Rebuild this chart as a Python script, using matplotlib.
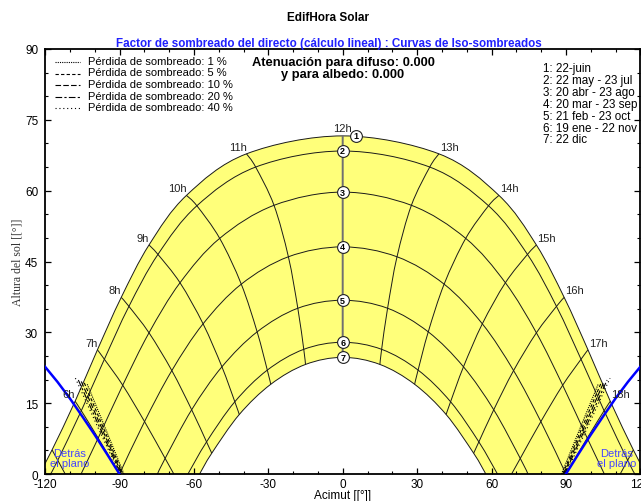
import numpy as np
import matplotlib
matplotlib.use("Agg")
import matplotlib.pyplot as plt
import matplotlib.transforms as mtransforms
from matplotlib.path import Path
from matplotlib.patches import PathPatch
from matplotlib.lines import Line2D

plt.rcParams["font.family"] = ["Liberation Sans", "DejaVu Sans"]
plt.rcParams["axes.unicode_minus"] = False

# --- data --------------------------------------------------------------------
DATE_LABELS = ["1: 22-juin", "2: 22 may - 23 jul", "3: 20 abr - 23 ago",
               "4: 20 mar - 23 sep", "5: 21 feb - 23 oct", "6: 19 ene - 22 nov",
               "7: 22 dic"]
HOURS = [5, 6, 7, 8, 9, 10, 11, 12, 13, 14, 15, 16, 17, 18, 19]

# azimuth / altitude of the sun at each hour, one row per date (None = below horizon)
AZIMUTH = [
    [-117.2, -107.9, -98.9, -89.3, -78.1, -63.0, -38.8, 0.0, 38.8, 63.0, 78.1, 89.3, 98.9, 107.9, 117.2],
    [-114.9, -105.4, -96.1, -86.2, -74.5, -58.8, -35.1, 0.0, 35.1, 58.8, 74.5, 86.2, 96.1, 105.4, 114.9],
    [None, -98.6, -88.7, -78.1, -65.6, -49.6, -27.7, 0.0, 27.7, 49.6, 65.6, 78.1, 88.7, 98.6, None],
    [None, -90.0, -79.9, -68.9, -56.3, -40.9, -21.9, 0.0, 21.9, 40.9, 56.3, 68.9, 79.9, 90.0, None],
    [None, None, -71.6, -60.9, -48.7, -34.5, -18.1, 0.0, 18.1, 34.5, 48.7, 60.9, 71.6, None, None],
    [None, None, None, -54.9, -43.5, -30.4, -15.7, 0.0, 15.7, 30.4, 43.5, 54.9, None, None, None],
    [None, None, None, -52.8, -41.7, -29.0, -15.0, 0.0, 15.0, 29.0, 41.7, 52.8, None, None, None],
]
ALTITUDE = [
    [5.1, 15.4, 26.3, 37.4, 48.5, 59.0, 67.8, 71.6, 67.8, 59.0, 48.5, 37.4, 26.3, 15.4, 5.1],
    [2.9, 13.4, 24.3, 35.5, 46.5, 56.8, 65.0, 68.4, 65.0, 56.8, 46.5, 35.5, 24.3, 13.4, 2.9],
    [None, 7.6, 18.8, 29.9, 40.5, 49.9, 56.9, 59.7, 56.9, 49.9, 40.5, 29.9, 18.8, 7.6, None],
    [None, 0.0, 11.1, 21.9, 31.8, 40.2, 46.0, 48.1, 46.0, 40.2, 31.8, 21.9, 11.1, 0.0, None],
    [None, None, 3.3, 13.6, 22.7, 30.1, 35.1, 36.8, 35.1, 30.1, 22.7, 13.6, 3.3, None, None],
    [None, None, None, 6.8, 15.3, 22.0, 26.4, 27.9, 26.4, 22.0, 15.3, 6.8, None, None, None],
    [None, None, None, 4.4, 12.6, 19.0, 23.2, 24.7, 23.2, 19.0, 12.6, 4.4, None, None, None],
]
SUNRISE_AZ = [-122.3, -117.8, -105.5, -90.0, -74.7, -62.4, -57.7]
SUNSET_AZ = [122.3, 117.8, 105.5, 90.0, 74.7, 62.4, 57.7]
# azimuth where an hour line reaches the horizon (None = ends on curve 7)
HOUR_END_AZ = [-111.9, -90.0, -68.1, None, None, None, None, None,
               None, None, None, None, 68.1, 90.0, 111.9]

# limit of the collector plane ("Detras el plano")
PLANE_AZ_LEFT = [-122, -120, -115, -110, -105, -100, -95, -90]
PLANE_ALT_LEFT = [23.8, 22.7, 19.5, 16.0, 12.2, 8.3, 4.2, 0.0]
PLANE_AZ_RIGHT = [90, 95, 100, 105, 110, 115, 120, 122]
PLANE_ALT_RIGHT = [0.0, 4.2, 8.3, 12.2, 16.0, 19.5, 22.7, 23.8]

# iso-shading curves (loss %): top, middle and bottom points, left and right
LOSS = [1, 5, 10, 20, 40]
ISO_LEFT_AZ = [[-103.0, -95.8, -88.2], [-104.2, -96.6, -88.7], [-105.4, -97.4, -89.1],
               [-106.6, -98.2, -89.5], [-107.8, -99.0, -89.9]]
ISO_LEFT_ALT = [[19.0, 9.8, 0.0], [19.3, 9.9, 0.0], [19.6, 10.0, 0.0],
                [19.9, 10.1, 0.0], [20.3, 10.2, 0.0]]
ISO_RIGHT_AZ = [[88.2, 95.8, 103.0], [88.7, 96.6, 104.2], [89.1, 97.4, 105.4],
                [89.5, 98.2, 106.6], [89.9, 99.0, 107.8]]
ISO_RIGHT_ALT = [[0.0, 9.8, 19.0], [0.0, 9.9, 19.3], [0.0, 10.0, 19.6],
                 [0.0, 10.1, 19.9], [0.0, 10.2, 20.3]]

# --- helpers -------------------------------------------------------------------
ISO_STYLES = [(0, (1, 1)), (0, (3, 2)), (0, (5, 2)), (0, (6, 2, 2, 2)), (0, (1, 2.5))]


def clean(xs, ys):
    pts = []
    for x, y in zip(xs, ys):
        if x is None or y is None or np.isnan(x) or np.isnan(y):
            continue
        if pts and abs(pts[-1][0] - x) < 1e-9 and abs(pts[-1][1] - y) < 1e-9:
            continue
        pts.append((x, y))
    return np.array(pts, dtype=float)


def smooth(P):
    # Catmull-Rom through the points, drawn as cubic Bezier segments
    verts, codes = [P[0]], [Path.MOVETO]
    n = len(P)
    for i in range(n - 1):
        p0 = P[i - 1] if i > 0 else P[i]
        p1, p2 = P[i], P[i + 1]
        p3 = P[i + 2] if i + 2 < n else P[i + 1]
        verts += [p1 + (p2 - p0) / 6.0, p2 - (p3 - p1) / 6.0, p2]
        codes += [Path.CURVE4] * 3
    return verts, codes


def day_points(k):
    xs = [SUNRISE_AZ[k]] + AZIMUTH[k] + [SUNSET_AZ[k]]
    ys = [0.0] + ALTITUDE[k] + [0.0]
    return clean(xs, ys)


def hour_points(j):
    xs = [row[j] for row in AZIMUTH] + [HOUR_END_AZ[j]]
    ys = [row[j] for row in ALTITUDE] + [0.0 if HOUR_END_AZ[j] is not None else None]
    return clean(xs, ys)


W, H = 641, 502
fig = plt.figure(figsize=(W / 100, H / 100), dpi=100)
ax = fig.add_axes([45.1 / W, 1 - 475 / H, 595.2 / W, 425 / H])
ax.set_xlim(-120, 120)
ax.set_ylim(0, 90)

# yellow band between 22 jun and 22 dec
v1, c1 = smooth(day_points(0))
v7, c7 = smooth(day_points(6)[::-1])
c7[0] = Path.LINETO
verts = v1 + v7 + [v1[0]]
codes = c1 + c7 + [Path.CLOSEPOLY]
ax.add_patch(PathPatch(Path(verts, codes), facecolor="#ffff7a", edgecolor="none", zorder=1))

for k in range(len(AZIMUTH)):
    v, c = smooth(day_points(k))
    ax.add_patch(PathPatch(Path(v, c), facecolor="none", edgecolor="#1a1a1a", lw=0.7, zorder=2))

for j, h in enumerate(HOURS):
    P = hour_points(j)
    if len(P) < 2:
        continue
    v, c = smooth(P)
    if h == 12:
        ax.add_patch(PathPatch(Path(v, c), facecolor="none", edgecolor="#707070", lw=1.4, zorder=2))
    else:
        ax.add_patch(PathPatch(Path(v, c), facecolor="none", edgecolor="#1a1a1a", lw=0.7, zorder=2))

# iso-shading curves
for i in range(len(LOSS)):
    ax.plot(ISO_LEFT_AZ[i], ISO_LEFT_ALT[i], color="k", lw=0.8, ls=ISO_STYLES[i], zorder=3)
    ax.plot(ISO_RIGHT_AZ[i], ISO_RIGHT_ALT[i], color="k", lw=0.8, ls=ISO_STYLES[i], zorder=3)

# plane limit
ax.plot(PLANE_AZ_LEFT, PLANE_ALT_LEFT, color="#0000ff", lw=1.8, zorder=4)
ax.plot(PLANE_AZ_RIGHT, PLANE_ALT_RIGHT, color="#0000ff", lw=1.8, zorder=4)

# hour labels along the 22 jun curve
for j, h in enumerate(HOURS):
    if h < 6 or h > 18:
        continue
    x, y = AZIMUTH[0][j], ALTITUDE[0][j]
    if h < 12:
        ax.annotate(f"{h}h", (x, y), xytext=(0, 2), textcoords="offset pixels",
                    ha="right", va="bottom", fontsize=8, color="#222222", zorder=5)
    elif h > 12:
        ax.annotate(f"{h}h", (x, y), xytext=(1, 2), textcoords="offset pixels",
                    ha="left", va="bottom", fontsize=8, color="#222222", zorder=5)
    else:
        ax.annotate(f"{h}h", (x, y), xytext=(0, 2.5), textcoords="offset pixels",
                    ha="center", va="bottom", fontsize=8, color="#222222", zorder=5)

# numbered markers on the noon line
noon = HOURS.index(12)
for k in range(len(AZIMUTH)):
    tr = ax.transData
    if k == 0:
        tr = mtransforms.offset_copy(ax.transData, fig=fig, x=13, y=0, units="dots")
    ax.plot([AZIMUTH[k][noon]], [ALTITUDE[k][noon]], marker="o", ms=8.5, mfc="white",
            mec="#222222", mew=0.8, transform=tr, zorder=6, clip_on=False)
    ax.text(AZIMUTH[k][noon], ALTITUDE[k][noon], str(k + 1), transform=tr, ha="center",
            va="center", fontsize=6.5, fontweight="bold", zorder=7)

# axes styling
ax.set_xticks(np.arange(-120, 121, 30))
ax.set_xticks(np.arange(-120, 121, 10), minor=True)
ax.set_yticks(np.arange(0, 91, 15))
ax.set_yticks(np.arange(0, 91, 5), minor=True)
ax.tick_params(which="both", direction="in", top=True, right=True, labelsize=8.5)
ax.tick_params(axis="x", pad=3)
ax.tick_params(axis="y", pad=5)
ax.tick_params(which="major", length=4, width=0.9)
ax.tick_params(which="minor", length=2.5, width=0.8)
for s in ax.spines.values():
    s.set_linewidth(1.3)
ax.set_xlabel("Acimut [[°]]", fontsize=8.5, va="center")
ax.xaxis.set_label_coords(0.5, -21.5 / 425)
ax.set_ylabel("Altura del sol [[°]]", fontsize=8.5, va="center",
              family=["Liberation Serif", "DejaVu Serif"], color="#333333")
ax.yaxis.set_label_coords(-28 / 595.2, 0.5)


def fx(px):
    return px / W


def fy(py):
    return 1 - py / H


fig.text(fx(328), fy(18), "EdifHora Solar", ha="center", va="center", fontsize=8.5,
         fontweight="bold")
fig.text(fx(329), fy(44), "Factor de sombreado del directo (cálculo lineal) : Curvas de Iso-sombreados",
         ha="center", va="center", fontsize=8.4, fontweight="bold", color="#2020ff")
fig.text(fx(343), fy(63), "Atenuación para difuso: 0.000", ha="center", va="center",
         fontsize=9.3, fontweight="bold")
fig.text(fx(343), fy(75), "y para albedo: 0.000", ha="center", va="center",
         fontsize=9.3, fontweight="bold")

# loss legend (top left)
for i, p in enumerate(LOSS):
    yy = 62 + 11.5 * i
    fig.add_artist(Line2D([fx(55), fx(80)], [fy(yy + 1), fy(yy + 1)], color="k", lw=0.8,
                          ls=ISO_STYLES[i]))
    fig.text(fx(88), fy(yy), f"Pérdida de sombreado: {p} %", ha="left", va="center",
             fontsize=8)

# date legend (top right)
for k, lab in enumerate(DATE_LABELS):
    fig.text(fx(543), fy(69 + 11.9 * k), lab, ha="left", va="center", fontsize=8.4)

fig.text(fx(70), fy(459), "Detrás\nel plano", ha="center", va="center", fontsize=8,
         color="#4646ff", linespacing=1.0)
fig.text(fx(617), fy(459), "Detrás\nel plano", ha="center", va="center", fontsize=8,
         color="#4646ff", linespacing=1.0)

fig.savefig("out.png", dpi=100)
